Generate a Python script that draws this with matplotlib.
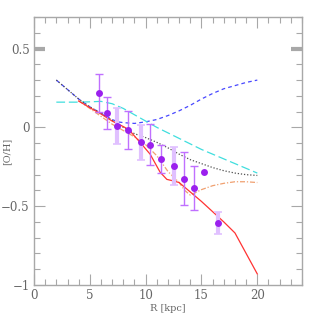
# Radial [O/H] gradient: model curves against observed points.

import matplotlib
matplotlib.use('Agg')
import matplotlib.pyplot as plt
from matplotlib.ticker import MultipleLocator, FuncFormatter

# Observed points (with error bars)
r_obs = [5.8, 6.55, 7.45, 8.4, 9.55, 10.4, 11.4, 12.5, 13.4, 14.3, 16.5]
oh_obs = [0.22, 0.09, 0.01, -0.015, -0.095, -0.11, -0.2, -0.245, -0.325, -0.385, -0.605]
err_obs = [0.12, 0.10, 0.115, 0.12, 0.11, 0.13, 0.09, 0.12, 0.17, 0.14, 0.07]
wide_bar = [False, False, True, False, True, False, False, True, False, False, True]

# Point with no error bar
r_single = [15.2]
oh_single = [-0.285]

# Model curves
r_blue = [2, 3, 4, 5, 6, 7, 7.5, 8, 9, 10, 11, 12, 13, 14, 15, 16, 17, 18, 19, 20]
oh_blue = [0.3, 0.24, 0.18, 0.13, 0.09, 0.05, 0.035, 0.03, 0.025, 0.035, 0.05,
           0.075, 0.105, 0.14, 0.18, 0.215, 0.245, 0.265, 0.285, 0.3]

r_cyan = [2, 3, 4, 5, 6, 7, 8, 9, 10, 11, 12, 13, 14, 15, 16, 17, 18, 19, 20]
oh_cyan = [0.16, 0.16, 0.16, 0.162, 0.165, 0.15, 0.12, 0.08, 0.04, 0.0, -0.035,
           -0.07, -0.105, -0.14, -0.17, -0.2, -0.23, -0.26, -0.29]

r_gray = [2, 3, 4, 5, 6, 7, 8, 9, 10, 11, 12, 13, 14, 15, 16, 17, 18, 19, 20]
oh_gray = [0.3, 0.24, 0.18, 0.13, 0.09, 0.045, 0.0, -0.04, -0.065, -0.095, -0.13,
           -0.17, -0.205, -0.23, -0.255, -0.275, -0.29, -0.3, -0.305]

r_orange = [4, 5, 6, 7, 8, 9, 10, 11, 12, 13, 13.5, 14, 15, 16, 17, 18, 19, 20]
oh_orange = [0.17, 0.12, 0.07, 0.02, -0.02, -0.06, -0.11, -0.18, -0.28, -0.35,
             -0.40, -0.43, -0.395, -0.37, -0.355, -0.345, -0.345, -0.35]

r_red = [4, 5, 6, 7, 8, 8.5, 9.5, 10.4, 11.3, 11.9, 12.5, 13, 14, 15, 16, 17, 18, 19, 20]
oh_red = [0.167, 0.125, 0.085, 0.04, 0.005, -0.015, -0.095, -0.17, -0.285, -0.33,
          -0.34, -0.35, -0.41, -0.47, -0.535, -0.6, -0.67, -0.8, -0.93]

fig = plt.figure(figsize=(3.19, 3.19), dpi=100)
ax = fig.add_axes([0.1066, 0.1066, 0.84, 0.84])

ax.plot(r_blue, oh_blue, color='#4848ff', lw=0.9, dashes=(3, 2.5))
ax.plot(r_cyan, oh_cyan, color='#40dede', lw=0.9, dashes=(7, 3))
ax.plot(r_gray, oh_gray, color='#505050', lw=0.9, dashes=(1, 1.5))
ax.plot(r_orange, oh_orange, color='#f0a070', lw=0.9, dashes=(4, 1.5, 1, 1.5))
ax.plot(r_red, oh_red, color='#ff3333', lw=0.9)

# Error bars: wide pale ones and thin dark ones
for r, oh, e, wide in zip(r_obs, oh_obs, err_obs, wide_bar):
    if wide:
        ax.errorbar([r], [oh], yerr=[e], fmt='none', ecolor='#e0c0ff',
                    elinewidth=3, capsize=3, capthick=1.2)
    else:
        ax.errorbar([r], [oh], yerr=[e], fmt='none', ecolor='#c070ff',
                    elinewidth=1, capsize=3, capthick=1)
ax.plot(r_obs, oh_obs, 'o', color='#9b20ee', markersize=5, markeredgewidth=0)
ax.plot(r_single, oh_single, 'o', color='#9b20ee', markersize=5, markeredgewidth=0)

ax.set_xlim(0, 24)
ax.set_ylim(-1, 0.7)
ax.xaxis.set_major_locator(MultipleLocator(5))
ax.xaxis.set_minor_locator(MultipleLocator(1))
ax.yaxis.set_major_locator(MultipleLocator(0.5))
ax.yaxis.set_minor_locator(MultipleLocator(0.1))


def fmt(v, pos):
    s = '%g' % round(v, 2)
    return s.replace('-', '\u2212')


ax.xaxis.set_major_formatter(FuncFormatter(fmt))
ax.yaxis.set_major_formatter(FuncFormatter(fmt))

for s in ax.spines.values():
    s.set_color('#a8a8a8')
    s.set_linewidth(1)
ax.tick_params(which='both', direction='in', top=True, right=True,
               color='#a8a8a8', width=0.8)
ax.tick_params(which='major', length=8, labelsize=8.5, labelcolor='#666666', pad=3)
ax.tick_params(which='minor', length=4)

for lab in ax.get_xticklabels() + ax.get_yticklabels():
    lab.set_family('DejaVu Serif')

ax.set_xlabel('R [kpc]', fontsize=7, family='DejaVu Serif', color='#666666', labelpad=1)
ax.set_ylabel('[O/H]', fontsize=7, family='DejaVu Serif', color='#666666')
ax.yaxis.set_label_coords(-0.085, 0.5)

# The 0.5 tick is drawn as a thick pale mark on both sides
for t in ax.yaxis.get_major_ticks():
    if abs(t.get_loc() - 0.5) < 1e-6:
        for ln in (t.tick1line, t.tick2line):
            ln.set_markeredgewidth(3)
            ln.set_color('#dedede')

fig.savefig('out.png', dpi=100)
